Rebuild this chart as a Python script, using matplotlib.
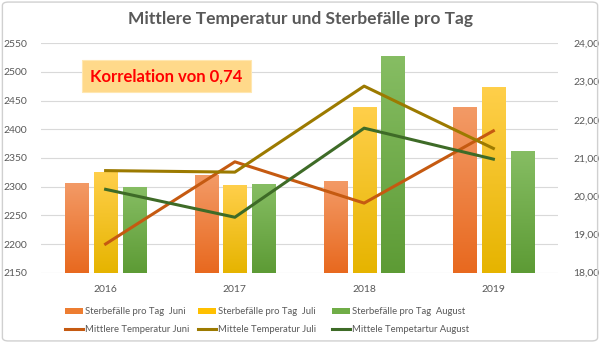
import numpy as np
import matplotlib.pyplot as plt
from matplotlib.colors import LinearSegmentedColormap
from matplotlib.patches import FancyBboxPatch, Patch
from matplotlib.lines import Line2D

# DATA
jahre = ["2016", "2017", "2018", "2019"]
sterbe_juni = [2306, 2320, 2310, 2439]
sterbe_juli = [2326, 2303, 2438, 2473]
sterbe_august = [2299, 2305, 2527, 2361]
temp_juni = [18.75, 20.90, 19.82, 21.71]
temp_juli = [20.67, 20.63, 22.88, 21.25]
temp_august = [20.18, 19.45, 21.78, 20.97]

links_ticks = [2150, 2200, 2250, 2300, 2350, 2400, 2450, 2500, 2550]
rechts_ticks = [18, 19, 20, 21, 22, 23, 24]

bar_namen = ["Sterbefälle pro Tag  Juni", "Sterbefälle pro Tag  Juli", "Sterbefälle pro Tag  August"]
linien_namen = ["Mittlere Temperatur Juni", "Mittele Temperatur Juli", "Mittele Tempetartur August"]

# Farben (oben hell -> unten kräftig)
bar_farben = [("#F39A66", "#E8691F"), ("#FFCF4A", "#E6B400"), ("#86BD63", "#5D9B35")]
legend_bar = ["#ED7D31", "#FFC000", "#70AD47"]
linien_farben = ["#C55A11", "#9C7A00", "#3E6B27"]
grau = "#595959"

plt.rcParams["font.family"] = ["Lato", "DejaVu Sans"]

fig = plt.figure(figsize=(6, 3.43), dpi=100)
rahmen = FancyBboxPatch((0.004, 0.006), 0.992, 0.988, boxstyle="round,pad=0,rounding_size=0.01",
                        transform=fig.transFigure, facecolor="none", edgecolor="#D0D0D0", lw=1)
fig.patches.append(rahmen)

ax = fig.add_axes([0.0683, 0.205, 0.8617, 0.6688])
ax2 = ax.twinx()

x = np.arange(len(jahre))
breite = 0.178
abstand = 0.222

for i, werte in enumerate([sterbe_juni, sterbe_juli, sterbe_august]):
    pos = x + (i - 1) * abstand
    bars = ax.bar(pos, np.array(werte) - 2150, breite, bottom=2150, color="none", zorder=2)
    cmap = LinearSegmentedColormap.from_list("g%d" % i, [bar_farben[i][1], bar_farben[i][0]])
    grad = np.linspace(0, 1, 100).reshape(-1, 1)
    for b in bars:
        x0 = b.get_x()
        x1 = x0 + b.get_width()
        y1 = b.get_y() + b.get_height()
        ax.imshow(grad, cmap=cmap, origin="lower", aspect="auto",
                  extent=[x0, x1, 2150, y1], zorder=2)

ax.set_xlim(-0.5, 3.5)
ax.set_ylim(2150, 2550)
ax.set_yticks(links_ticks)
ax.set_xticks(x)
ax.set_xticklabels(jahre)
ax.grid(axis="y", color="#D9D9D9", lw=0.8, zorder=0)
ax.set_axisbelow(True)

for i, werte in enumerate([temp_juni, temp_juli, temp_august]):
    ax2.plot(x, werte, color=linien_farben[i], lw=2.2, zorder=3)

ax2.set_ylim(18, 24)
ax2.set_yticks(rechts_ticks)
ax2.set_yticklabels([("%.2f" % v).replace(".", ",") for v in rechts_ticks])

for a in (ax, ax2):
    for s in a.spines.values():
        s.set_visible(False)
    a.tick_params(length=0, labelsize=7.5, colors=grau)
ax.tick_params(axis="y", pad=10)
ax2.tick_params(axis="y", pad=11)
ax.tick_params(axis="x", pad=9)

fig.text(0.5, 0.945, "Mittlere Temperatur und Sterbefälle pro Tag", ha="center", va="center",
         fontsize=12.5, fontweight="bold", color=grau)

# Korrelation box
fig.text(0.277, 0.778, "Korrelation von 0,74", ha="center", va="center",
         fontsize=12, fontweight="bold", color="#FF0000", zorder=5,
         bbox=dict(boxstyle="square,pad=0.5", facecolor="#FFD98A", edgecolor="#FFE7B0", lw=0.8))

# Legende in drei Spalten
spalten_x = [0.108, 0.330, 0.553]
for i in range(3):
    handles = [Patch(facecolor=legend_bar[i]), Line2D([0], [0], color=linien_farben[i], lw=2.2)]
    leg = fig.legend(handles, [bar_namen[i], linien_namen[i]], loc="upper left",
                     bbox_to_anchor=(spalten_x[i], 0.104), frameon=False, fontsize=6.8,
                     handlelength=1.9, handleheight=0.6, handletextpad=0.2, labelspacing=0.9,
                     borderaxespad=0, borderpad=0, labelcolor=grau)

fig.savefig("out.png", dpi=100)
